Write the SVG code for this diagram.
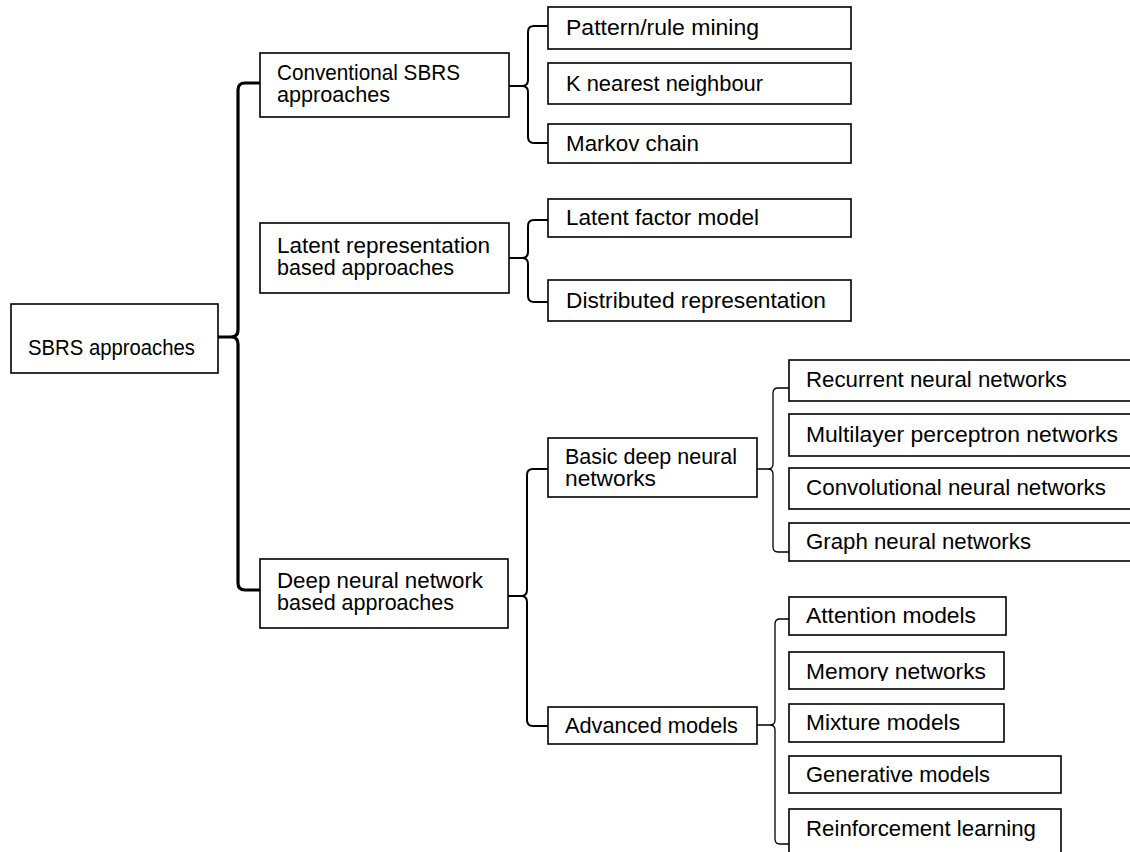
<svg xmlns="http://www.w3.org/2000/svg" width="1130" height="852" viewBox="0 0 1130 852">
<style>
.box{fill:#fff;stroke:#000;stroke-width:1.6}
.t{font-family:"Liberation Sans",Arial,sans-serif;font-size:21.5px;fill:#000}
.br{fill:none;stroke:#000;stroke-linejoin:round;stroke-linecap:butt}
.b3{stroke-width:3.2}
.b2{stroke-width:2}
.b1{stroke-width:1.3}
</style>
<defs>
<clipPath id="memclip"><rect x="790" y="652" width="214" height="29"/></clipPath>
</defs>
<g id="connectors">
<path class="br b3" d="M260,83 H245 Q238,83 238,90 V330 Q238,337 231,337 H218 M231,337 Q238,337 238,344 V583 Q238,590 245,590 H260"/>
<path class="br b2" d="M548,26 H534 Q528,26 528,32 V80 Q528,86 522,86 H509 M522,86 Q528,86 528,92 V137 Q528,143 534,143 H548"/>
<path class="br b2" d="M548,220 H534 Q528,220 528,226 V252 Q528,258 522,258 H509 M522,258 Q528,258 528,264 V296 Q528,302 534,302 H548"/>
<path class="br b2" d="M548,469 H533 Q527,469 527,475 V590 Q527,596 521,596 H508 M521,596 Q527,596 527,602 V720 Q527,726 533,726 H548"/>
<path class="br b1" d="M789,388 H778 Q773,388 773,393 V464 Q773,469 768,469 H757 M768,469 Q773,469 773,474 V547 Q773,552 778,552 H789"/>
<path class="br b1" d="M789,619 H780 Q775,619 775,624 V720 Q775,725 770,725 H757 M770,725 Q775,725 775,730 V839 Q775,844 780,844 H789"/>
</g>
<g id="n-sbrs"><rect class="box" x="11" y="304" width="207" height="69"/><text class="t" x="28" y="355" textLength="167" lengthAdjust="spacingAndGlyphs">SBRS approaches</text></g>
<g id="n-conv"><rect class="box" x="260" y="53" width="249" height="64"/><text class="t" x="277" y="80" textLength="183" lengthAdjust="spacingAndGlyphs">Conventional SBRS</text><text class="t" x="277" y="102" textLength="113" lengthAdjust="spacingAndGlyphs">approaches</text></g>
<g id="n-latent"><rect class="box" x="260" y="223" width="249" height="70"/><text class="t" x="277" y="253" textLength="213" lengthAdjust="spacingAndGlyphs">Latent representation</text><text class="t" x="277" y="275" textLength="177" lengthAdjust="spacingAndGlyphs">based approaches</text></g>
<g id="n-deep"><rect class="box" x="260" y="559" width="248" height="69"/><text class="t" x="277" y="588" textLength="206" lengthAdjust="spacingAndGlyphs">Deep neural network</text><text class="t" x="277" y="610" textLength="177" lengthAdjust="spacingAndGlyphs">based approaches</text></g>
<g id="n-pattern"><rect class="box" x="548" y="7" width="303" height="42"/><text class="t" x="566" y="35" textLength="193" lengthAdjust="spacingAndGlyphs">Pattern/rule mining</text></g>
<g id="n-knn"><rect class="box" x="548" y="63" width="303" height="41"/><text class="t" x="566" y="91" textLength="197" lengthAdjust="spacingAndGlyphs">K nearest neighbour</text></g>
<g id="n-markov"><rect class="box" x="548" y="124" width="303" height="39"/><text class="t" x="566" y="151" textLength="133" lengthAdjust="spacingAndGlyphs">Markov chain</text></g>
<g id="n-lfm"><rect class="box" x="548" y="199" width="303" height="38"/><text class="t" x="566" y="225" textLength="193" lengthAdjust="spacingAndGlyphs">Latent factor model</text></g>
<g id="n-dist"><rect class="box" x="548" y="280" width="303" height="41"/><text class="t" x="566" y="308" textLength="260" lengthAdjust="spacingAndGlyphs">Distributed representation</text></g>
<g id="n-basic"><rect class="box" x="548" y="438" width="209" height="59"/><text class="t" x="565" y="464" textLength="172" lengthAdjust="spacingAndGlyphs">Basic deep neural</text><text class="t" x="565" y="486" textLength="91" lengthAdjust="spacingAndGlyphs">networks</text></g>
<g id="n-adv"><rect class="box" x="548" y="707" width="209" height="37"/><text class="t" x="565" y="733" textLength="173" lengthAdjust="spacingAndGlyphs">Advanced models</text></g>
<g id="n-rnn"><rect class="box" x="789" y="360" width="345" height="41"/><text class="t" x="806" y="387" textLength="261" lengthAdjust="spacingAndGlyphs">Recurrent neural networks</text></g>
<g id="n-mlp"><rect class="box" x="789" y="414" width="345" height="42"/><text class="t" x="806" y="442" textLength="312" lengthAdjust="spacingAndGlyphs">Multilayer perceptron networks</text></g>
<g id="n-cnn"><rect class="box" x="789" y="468" width="345" height="41"/><text class="t" x="806" y="495" textLength="300" lengthAdjust="spacingAndGlyphs">Convolutional neural networks</text></g>
<g id="n-gnn"><rect class="box" x="789" y="523" width="345" height="38"/><text class="t" x="806" y="549" textLength="225" lengthAdjust="spacingAndGlyphs">Graph neural networks</text></g>
<g id="n-att"><rect class="box" x="789" y="597" width="217" height="38"/><text class="t" x="806" y="623" textLength="170" lengthAdjust="spacingAndGlyphs">Attention models</text></g>
<g id="n-mem"><rect class="box" x="789" y="652" width="215" height="37"/><text class="t" x="806" y="679" clip-path="url(#memclip)" textLength="180" lengthAdjust="spacingAndGlyphs">Memory networks</text></g>
<g id="n-mix"><rect class="box" x="789" y="704" width="215" height="38"/><text class="t" x="806" y="730" textLength="154" lengthAdjust="spacingAndGlyphs">Mixture models</text></g>
<g id="n-gen"><rect class="box" x="789" y="756" width="272" height="37"/><text class="t" x="806" y="782" textLength="184" lengthAdjust="spacingAndGlyphs">Generative models</text></g>
<g id="n-rl"><rect class="box" x="789" y="809" width="272" height="50"/><text class="t" x="806" y="836" textLength="230" lengthAdjust="spacingAndGlyphs">Reinforcement learning</text></g>
</svg>
